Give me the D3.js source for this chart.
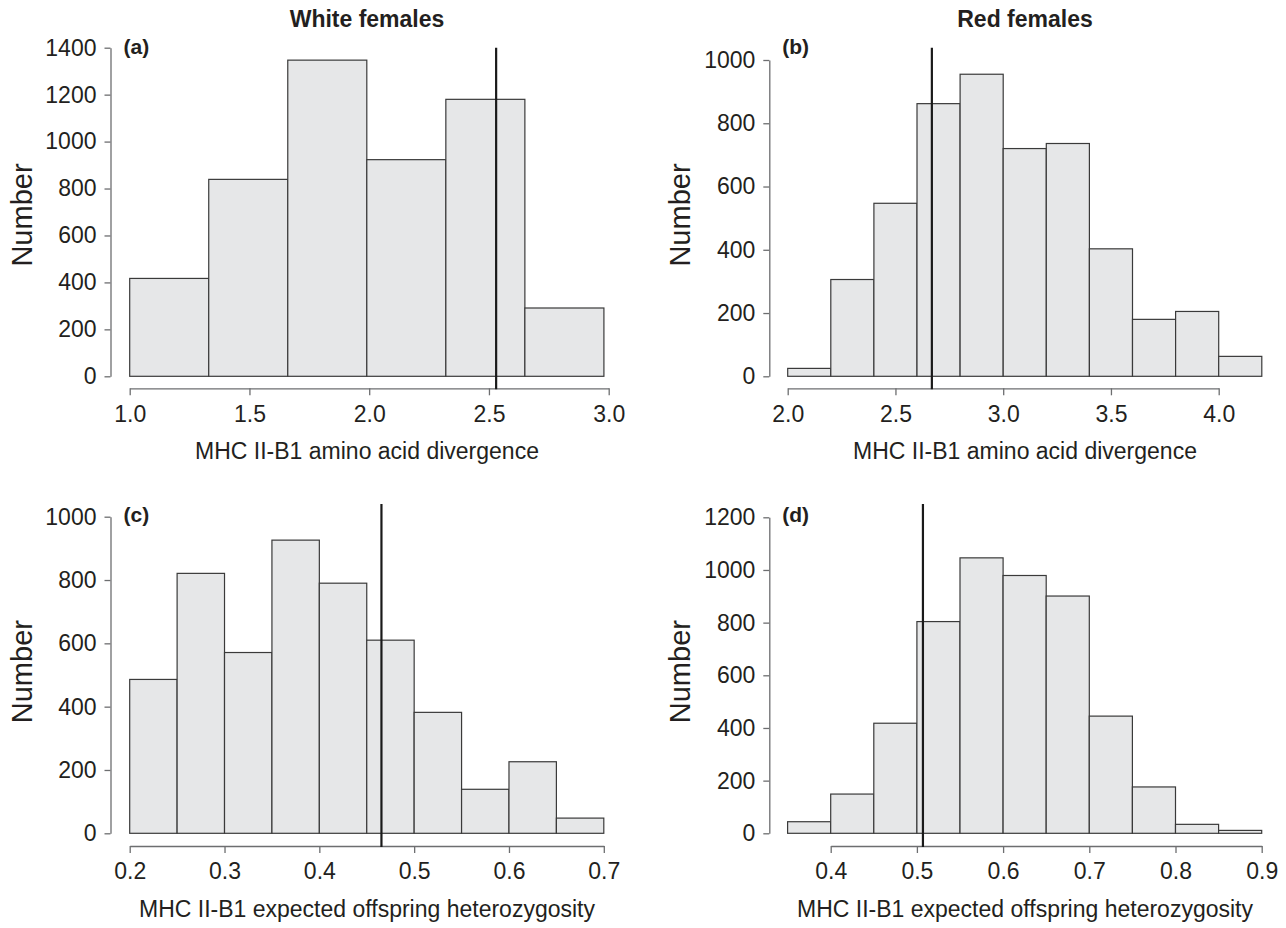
<!DOCTYPE html>
<html>
<head>
<meta charset="utf-8">
<script src="https://cdn.jsdelivr.net/npm/d3@7"></script>
<style>
  body { margin: 0; background: #fff; }
  svg text { font-family: "Liberation Sans", Arial, sans-serif; fill: #231f20; }
</style>
</head>
<body>
<script>
// bin edges and counts for each panel
const binsA = [1.0, 1.33, 1.66, 1.99, 2.32, 2.65, 2.98];
const countsA = [417, 839, 1347, 923, 1180, 291];
const ticksXA = [1.0, 1.5, 2.0, 2.5, 3.0];
const ticksYA = [0, 200, 400, 600, 800, 1000, 1200, 1400];
const lineA = 2.53;

const binsB = [2.0, 2.2, 2.4, 2.6, 2.8, 3.0, 3.2, 3.4, 3.6, 3.8, 4.0, 4.2];
const countsB = [25, 306, 547, 862, 955, 720, 736, 403, 180, 205, 63];
const ticksXB = [2.0, 2.5, 3.0, 3.5, 4.0];
const ticksYB = [0, 200, 400, 600, 800, 1000];
const lineB = 2.669;

const binsC = [0.2, 0.25, 0.3, 0.35, 0.4, 0.45, 0.5, 0.55, 0.6, 0.65, 0.7];
const countsC = [486, 821, 571, 926, 790, 610, 382, 139, 226, 48];
const ticksXC = [0.2, 0.3, 0.4, 0.5, 0.6, 0.7];
const ticksYC = [0, 200, 400, 600, 800, 1000];
const lineC = 0.4655;

const binsD = [0.35, 0.4, 0.45, 0.5, 0.55, 0.6, 0.65, 0.7, 0.75, 0.8, 0.85, 0.9];
const countsD = [44, 149, 418, 804, 1046, 979, 901, 445, 176, 34, 11];
const ticksXD = [0.4, 0.5, 0.6, 0.7, 0.8, 0.9];
const ticksYD = [0, 200, 400, 600, 800, 1000, 1200];
const lineD = 0.507;

const titles = ["White females", "Red females"];
const labels = ["(a)", "(b)", "(c)", "(d)"];
const xTitles = ["MHC II-B1 amino acid divergence", "MHC II-B1 expected offspring heterozygosity"];

const svg = d3.select("body").append("svg")
  .attr("width", 1286)
  .attr("height", 928);

// column titles
svg.append("text").attr("x", 367).attr("y", 27).attr("text-anchor", "middle")
  .style("font-weight", "bold").style("font-size", "23px").text(titles[0]);
svg.append("text").attr("x", 1025).attr("y", 27).attr("text-anchor", "middle")
  .style("font-weight", "bold").style("font-size", "23px").text(titles[1]);

const panels = [
  { bins: binsA, counts: countsA, tx: ticksXA, ty: ticksYA, line: lineA, lab: labels[0], xt: xTitles[0],
    yAxisX: 110.5, xr: [129.7, 608.7], yr: [376.3, 47.7], axisY: 388.3, top: 47.7, cx: 367, labY: 53.5 },
  { bins: binsB, counts: countsB, tx: ticksXB, ty: ticksYB, line: lineB, lab: labels[1], xt: xTitles[0],
    yAxisX: 769.3, xr: [787.7, 1218.7], yr: [376.3, 60], axisY: 388.3, top: 47.7, cx: 1025, labY: 53.5 },
  { bins: binsC, counts: countsC, tx: ticksXC, ty: ticksYC, line: lineC, lab: labels[2], xt: xTitles[1],
    yAxisX: 110.5, xr: [129.7, 603.8], yr: [833.3, 516.7], axisY: 846, top: 504, cx: 367, labY: 522 },
  { bins: binsD, counts: countsD, tx: ticksXD, ty: ticksYD, line: lineD, lab: labels[3], xt: xTitles[1],
    yAxisX: 769.3, xr: [830.7, 1261.7], yr: [833.3, 517.3], axisY: 846, top: 504, cx: 1025, labY: 522 }
];

panels.forEach(function(p) {
  const x = d3.scaleLinear()
    .domain([p.tx[0], p.tx[p.tx.length - 1]])
    .range(p.xr);
  const y = d3.scaleLinear()
    .domain([0, p.ty[p.ty.length - 1]])
    .range(p.yr);

  const g = svg.append("g");

  // bars
  g.selectAll("rect.bar")
    .data(p.counts)
    .enter().append("rect")
    .attr("class", "bar")
    .attr("x", function(d, i) { return x(p.bins[i]); })
    .attr("width", function(d, i) { return x(p.bins[i + 1]) - x(p.bins[i]); })
    .attr("y", function(d) { return y(d); })
    .attr("height", function(d) { return y(0) - y(d); })
    .style("fill", "#e6e7e8")
    .style("stroke", "#3a3a3a")
    .style("stroke-width", 1.2);

  // y axis
  const yAxis = g.append("g")
    .attr("transform", "translate(" + p.yAxisX + ",0)")
    .call(d3.axisLeft(y).tickValues(p.ty).tickSize(6).tickSizeOuter(0).tickPadding(8)
      .tickFormat(d3.format("d")));

  // x axis
  const xAxis = g.append("g")
    .attr("transform", "translate(0," + p.axisY + ")")
    .call(d3.axisBottom(x).tickValues(p.tx).tickSize(7).tickSizeOuter(0).tickPadding(10)
      .tickFormat(d3.format(".1f")));

  [yAxis, xAxis].forEach(function(a) {
    a.select(".domain").attr("stroke", "#6d6e70").attr("stroke-width", 1.3);
    a.selectAll(".tick line").attr("stroke", "#6d6e70").attr("stroke-width", 1.3);
    a.selectAll(".tick text").style("font-size", "23px").style("font-family", "'Liberation Sans', Arial, sans-serif").attr("fill", "#231f20");
  });

  // observed value line
  g.append("line")
    .attr("x1", x(p.line)).attr("x2", x(p.line))
    .attr("y1", p.top).attr("y2", p.axisY + 1)
    .attr("stroke", "#1a1a1a")
    .attr("stroke-width", 2.2);

  // panel letter
  g.append("text")
    .attr("x", p.yAxisX + 13)
    .attr("y", p.labY)
    .style("font-weight", "bold").style("font-size", "21px")
    .text(p.lab);

  // axis titles
  g.append("text")
    .attr("x", p.cx)
    .attr("y", p.axisY + 71)
    .attr("text-anchor", "middle")
    .style("font-size", "23px")
    .text(p.xt);

  g.append("text")
    .attr("transform", "translate(" + (p.yAxisX - 79) + "," + ((p.yr[0] + p.top) / 2 + 3) + ") rotate(-90)")
    .attr("text-anchor", "middle")
    .style("font-size", "29px")
    .text("Number");
});
</script>
</body>
</html>
